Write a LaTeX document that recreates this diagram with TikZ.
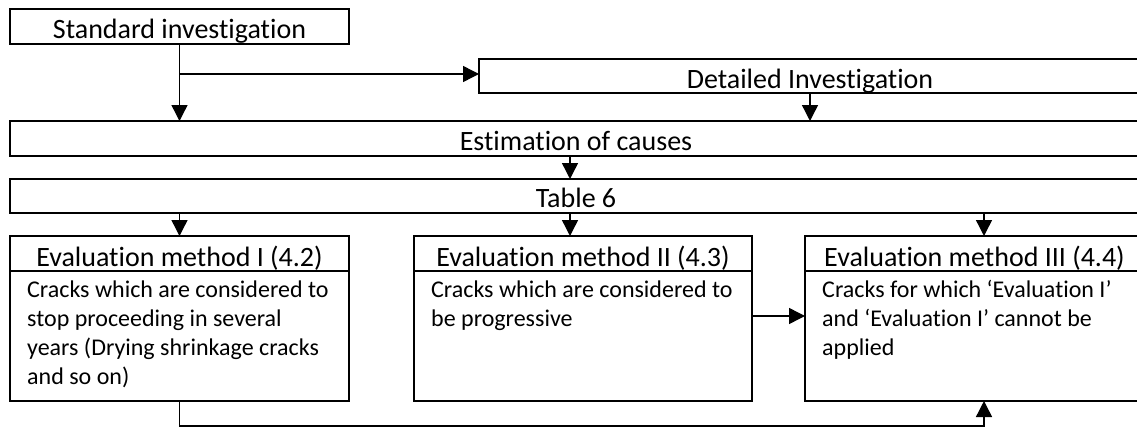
\documentclass[tikz,border=0pt]{standalone}
\usepackage{fontspec}
\setmainfont[Ligatures=NoCommon]{Carlito}
\usetikzlibrary{arrows.meta}
\newcommand{\hdfont}{\fontsize{28}{33}\selectfont}
\newcommand{\bdfont}{\fontsize{24}{29.3}\selectfont}
\tikzset{
  box/.style={draw, line width=1.4pt, inner sep=0pt, outer sep=0pt, rectangle},
  hd/.style={anchor=base, inner sep=0pt, font=\hdfont},
  bd/.style={anchor=base west, inner sep=0pt, font=\bdfont},
  arr/.style={line width=1.4pt, -{Triangle[length=16pt,width=16pt]}},
  ln/.style={line width=1.4pt}
}
\begin{document}
\begin{tikzpicture}[x=1pt,y=-1pt]
\useasboundingbox (0,0) rectangle (1137,428);
\clip (0,0) rectangle (1137,428);
% boxes
\node[box, minimum width=339pt, minimum height=35pt] (std) at (179.5,26.5) {};
\node[box, minimum width=662pt, minimum height=34pt] (det) at (810,76) {};
\node[box, minimum width=1132pt, minimum height=35pt] (est) at (576,138.5) {};
\node[box, minimum width=1132pt, minimum height=34pt] (tab) at (576,196) {};
\node[box, minimum width=339pt, minimum height=165pt] (e1) at (179.5,318.5) {};
\node[box, minimum width=338pt, minimum height=165pt] (e2) at (583,318.5) {};
\node[box, minimum width=339pt, minimum height=165pt] (e3) at (974.5,318.5) {};
% separators
\coordinate (sep) at (0,271);
\draw[ln] (e1.west |- sep) -- (e1.east |- sep);
\draw[ln] (e2.west |- sep) -- (e2.east |- sep);
\draw[ln] (e3.west |- sep) -- (e3.east |- sep);
% texts
\node[hd] (stdT) at (179.5,38.5) {Standard investigation};
\node[hd] (detT) at (810,88.5) {Detailed Investigation};
\node[hd] (estT) at (576,150) {Estimation of causes};
\node[hd] (tabT) at (576,207.5) {Table 6};
\node[hd] (e1T) at (179.5,266.5) {Evaluation method I (4.2)};
\node[hd] (e2T) at (583,266.5) {Evaluation method II (4.3)};
\node[hd] (e3T) at (974.5,266.5) {Evaluation method III (4.4)};
\node[bd] (e1B) at (27,297) {\begin{tabular}[t]{@{}l@{}}Cracks which are considered to\\stop proceeding in several\\years (Drying shrinkage cracks\\and so on)\end{tabular}};
\node[bd] (e2B) at (431,297) {\begin{tabular}[t]{@{}l@{}}Cracks which are considered to\\be progressive\end{tabular}};
\node[bd] (e3B) at (822,297) {\begin{tabular}[t]{@{}l@{}}Cracks for which ‘Evaluation I’\\and ‘Evaluation I’ cannot be\\applied\end{tabular}};
% helper coordinates
\coordinate (br) at (179.5,74);
\coordinate (cm) at (570,0);
\coordinate (c3) at (984,0);
\coordinate (mid) at (0,316);
\coordinate (bl) at (179.5,426);
% connectors
\draw[arr] (std.south) -- (std.south |- est.north);
\draw[arr] (br) -- (br -| det.west);
\draw[arr] (det.south) -- (det.south |- est.north);
\draw[arr] (est.south -| cm) -- (tab.north -| cm);
\draw[arr] (tab.south -| e1.north) -- (e1.north);
\draw[arr] (tab.south -| cm) -- (e2.north -| cm);
\draw[arr] (tab.south -| c3) -- (e3.north -| c3);
\draw[arr] (e2.east |- mid) -- (e3.west |- mid);
\draw[arr] (e1.south) -- (bl) -| (e3.south -| c3);
\end{tikzpicture}
\end{document}
